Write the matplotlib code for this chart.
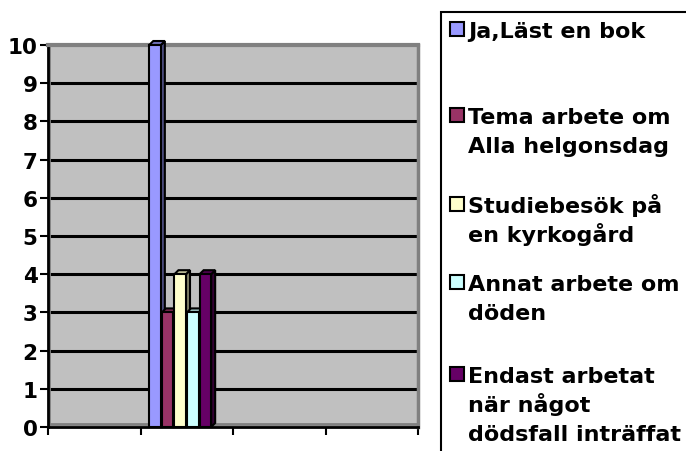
import matplotlib
matplotlib.use("Agg")
import matplotlib.pyplot as plt
from matplotlib.patches import Polygon, Rectangle
import matplotlib.colors as mcolors

# ---- data ----
series_labels = ["Ja,Läst en bok",
                 "Tema arbete om\nAlla helgonsdag",
                 "Studiebesök på\nen kyrkogård",
                 "Annat arbete om\ndöden",
                 "Endast arbetat\nnär något\ndödsfall inträffat"]
series_values = [10, 3, 4, 3, 4]
series_colors = ["#9999FF", "#993366", "#FFFFCC", "#CCFFFF", "#660066"]
n_categories = 4
category_index = 1
y_ticks = list(range(0, 11))

plt.rcParams["font.family"] = ["DejaVu Sans"]
plt.rcParams["font.weight"] = "bold"

W, H = 686, 452
fig = plt.figure(figsize=(W / 100, H / 100), dpi=100)
fig.patch.set_facecolor("white")

ax = fig.add_axes([48 / W, 1 - 428 / H, (418 - 48) / W, (428 - 46) / H])
ax.set_facecolor("#C0C0C0")
ax.set_xlim(0, n_categories)
ax.set_ylim(0, 10)

for v in y_ticks[1:-1]:
    ax.axhline(v, color="black", lw=2.2, zorder=1)

# inner wall edges (left / bottom) in dark gray
ax.axvline(0.012, color="#808080", lw=2, zorder=1.5)
ax.axhline(0.08, color="#808080", lw=2, zorder=1.5)

for s in ["left", "bottom"]:
    ax.spines[s].set_color("black")
    ax.spines[s].set_linewidth(2)
ax.spines["top"].set_color("#808080")
ax.spines["top"].set_linewidth(3)
ax.spines["right"].set_color("#808080")
ax.spines["right"].set_linewidth(2.5)

ax.set_xticks(range(n_categories + 1))
ax.set_xticklabels([])
ax.set_yticks(y_ticks)
ax.set_yticklabels([str(t) for t in y_ticks])
ax.tick_params(axis="x", length=6, width=1.5, direction="out", color="black")
ax.tick_params(axis="y", length=6, width=1.5, direction="out", color="black",
               labelsize=15.5, pad=1.5)
for lab in ax.get_yticklabels():
    lab.set_fontweight("bold")

# ---- 3D-looking bars ----
bar_w = 0.125
start = category_index + 0.095
step = 0.136
dx = 4 / 92.5
dy = 4 * 10 / 382

def shade(c, f):
    r, g, b = mcolors.to_rgb(c)
    return (r * f, g * f, b * f)

for i, (v, c) in enumerate(zip(series_values, series_colors)):
    x = start + i * step
    z = 3 + i
    side = Polygon([(x + bar_w, 0), (x + bar_w + dx, dy), (x + bar_w + dx, v + dy), (x + bar_w, v)],
                   closed=True, facecolor=shade(c, 0.5), edgecolor="black", lw=1.5,
                   zorder=z, clip_on=False)
    top = Polygon([(x, v), (x + dx, v + dy), (x + bar_w + dx, v + dy), (x + bar_w, v)],
                  closed=True, facecolor=shade(c, 0.75), edgecolor="black", lw=1.5,
                  zorder=z, clip_on=False)
    ax.add_patch(side)
    ax.add_patch(top)
    ax.bar(x, v, width=bar_w, align="edge", color=c, edgecolor="black", lw=1.5,
           zorder=z + 0.1, clip_on=False)

# ---- legend box ----
fig.patches.append(Rectangle((441 / W, -0.05), 1.0, (452 - 13) / H + 0.05,
                             transform=fig.transFigure, facecolor="white",
                             edgecolor="black", lw=1.5, zorder=0))
baselines = [38, 124, 213, 291, 383]
line_h = 29
for lab, c, b in zip(series_labels, series_colors, baselines):
    fig.patches.append(Rectangle((450 / W, 1 - (b - 1) / H), 14 / W, 14 / H,
                                 transform=fig.transFigure, facecolor=c,
                                 edgecolor="black", lw=1.5, zorder=2))
    for k, line in enumerate(lab.split("\n")):
        fig.text(468 / W, 1 - (b + k * line_h) / H, line, fontsize=16,
                 fontweight="bold", ha="left", va="baseline", color="black")

fig.savefig("out.png", dpi=100)
